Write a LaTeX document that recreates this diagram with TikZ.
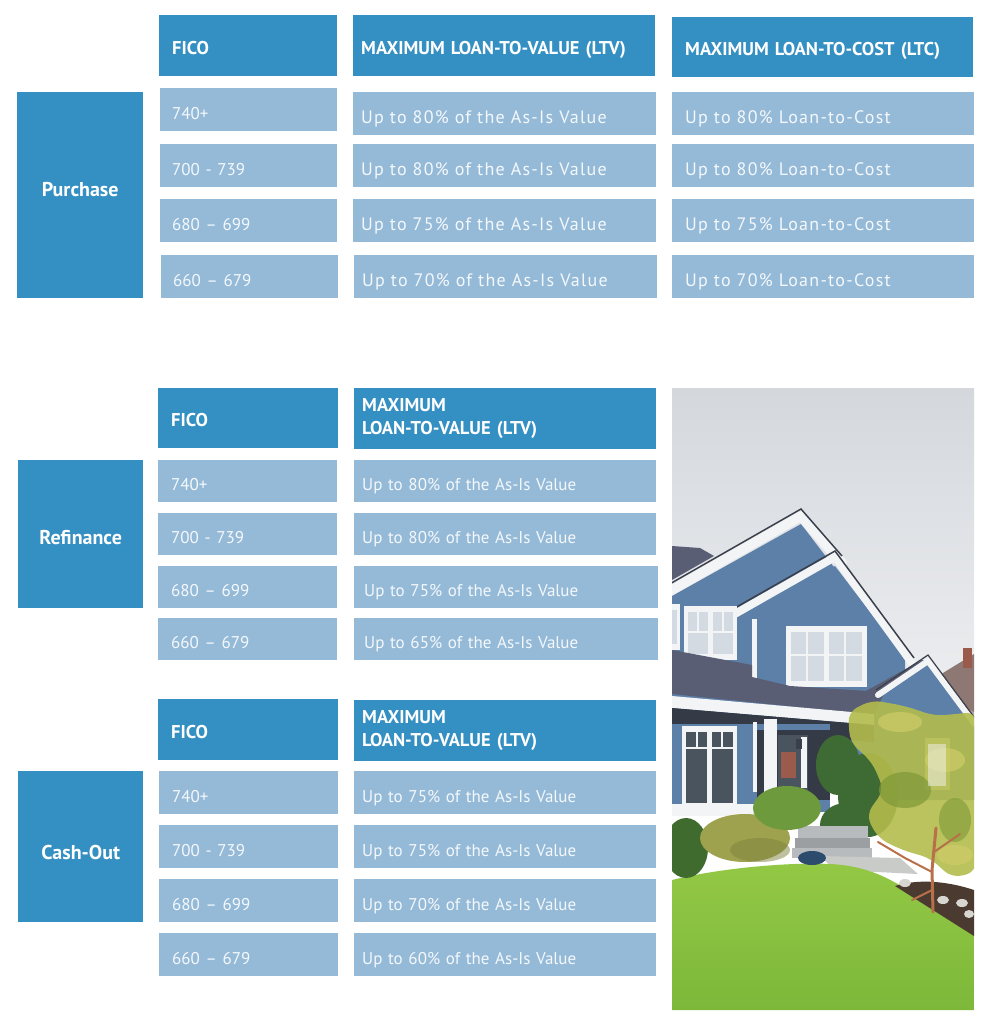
\documentclass[tikz,border=0pt]{standalone}
\usepackage{fontspec}
\setmainfont{PT Sans}
\newfontfamily\widefont[LetterSpace=7]{PT Sans}

\definecolor{hdrblue}{HTML}{348FC2}
\definecolor{cellblue}{HTML}{95BAD8}
\definecolor{celltext}{HTML}{F4F8FB}
\definecolor{skytop}{HTML}{D4D8DD}
\definecolor{skylow}{HTML}{EFF0F2}
\definecolor{siding}{HTML}{5D80A8}
\definecolor{slate}{HTML}{5A5E74}
\definecolor{roofedge}{HTML}{3A3F4C}
\definecolor{trimwhite}{HTML}{F3F4F5}
\definecolor{pane}{HTML}{D3DAE2}
\definecolor{darkpane}{HTML}{4A545E}
\definecolor{porchdark}{HTML}{343B47}
\definecolor{nbroof}{HTML}{8E7874}
\definecolor{nbwall}{HTML}{B8A4A0}
\definecolor{chimney}{HTML}{9A5A4C}
\definecolor{lawntop}{HTML}{93C845}
\definecolor{lawnlow}{HTML}{7DB83A}
\definecolor{mulch}{HTML}{4A3A30}
\definecolor{rock}{HTML}{D8D6D0}
\definecolor{bushdark}{HTML}{3F6B2E}
\definecolor{olive}{HTML}{9EA24E}
\definecolor{grassplume}{HTML}{6E9A3E}
\definecolor{shrub}{HTML}{3E6A34}
\definecolor{foliage}{HTML}{B3BC4C}
\definecolor{foliagelight}{HTML}{D2CF6A}
\definecolor{foliagedark}{HTML}{7E9838}
\definecolor{trunk}{HTML}{B8704A}
\definecolor{stepgray}{HTML}{B7BBBE}
\definecolor{pathgray}{HTML}{C9CBC8}

\newcommand{\hdrfont}{\fontsize{18.5}{23}\selectfont\bfseries}
\newcommand{\cellfont}{\fontsize{17}{20}\selectfont}
\newcommand{\widecell}{\fontsize{18}{20}\selectfont\widefont}

\tikzset{
  hdrbox/.style={fill=hdrblue, text=white, anchor=north west, inner ysep=0pt, align=left, font=\hdrfont},
  oneline/.style={text height=17pt, text depth=0pt},
  cellbox/.style={fill=cellblue, text=celltext, anchor=north west, inner ysep=0pt, align=left, font=\cellfont, text height=19pt, text depth=0pt},
  sidebox/.style={fill=hdrblue, text=white, anchor=north west, inner sep=0pt, align=center, font=\fontsize{20}{24}\selectfont\bfseries},
  trim/.style={trimwhite, line cap=round, line join=round},
}

\begin{document}
\begin{tikzpicture}[x=1pt, y=-1pt]
    \useasboundingbox (0,0) rectangle (997,1024);

    % Purchase
    \node[hdrbox, oneline, inner xsep=13pt, text width=152pt, minimum height=61pt] (pur-fico) at (159,15) {FICO};
    \node[hdrbox, oneline, inner xsep=8pt, text width=286pt, minimum height=61pt] (pur-ltv) at (353,15) {MAXIMUM LOAN-TO-VALUE (LTV)};
    \node[hdrbox, oneline, inner xsep=13pt, text width=275pt, minimum height=60pt] (pur-ltc) at (672,17) {MAXIMUM LOAN-TO-COST (LTC)};
    \node[sidebox, text height=14pt, text depth=12pt, minimum width=126pt, minimum height=206pt] (pur-side) at (17,92) {Purchase};

    \node[cellbox, inner xsep=12pt, text width=153pt, minimum height=43pt] (pur-f1) at (160,88) {740+};
    \node[cellbox, inner xsep=12pt, text width=153pt, minimum height=43pt] (pur-f2) at (160,144) {700 - 739};
    \node[cellbox, inner xsep=12pt, text width=153pt, minimum height=43pt] (pur-f3) at (160,199) {680 – 699};
    \node[cellbox, inner xsep=12pt, text width=153pt, minimum height=43pt] (pur-f4) at (161,255) {660 – 679};

    \node[cellbox, inner xsep=8pt, text width=287pt, minimum height=43pt, font=\widecell] (pur-v1) at (353,92) {Up to 80\% of the As-Is Value};
    \node[cellbox, inner xsep=8pt, text width=287pt, minimum height=43pt, font=\widecell] (pur-v2) at (353,144) {Up to 80\% of the As-Is Value};
    \node[cellbox, inner xsep=8pt, text width=287pt, minimum height=43pt, font=\widecell] (pur-v3) at (353,199) {Up to 75\% of the As-Is Value};
    \node[cellbox, inner xsep=8pt, text width=287pt, minimum height=43pt, font=\widecell] (pur-v4) at (354,255) {Up to 70\% of the As-Is Value};

    \node[cellbox, inner xsep=13pt, text width=276pt, minimum height=43pt, font=\widecell] (pur-c1) at (672,92) {Up to 80\% Loan-to-Cost};
    \node[cellbox, inner xsep=13pt, text width=276pt, minimum height=43pt, font=\widecell] (pur-c2) at (672,144) {Up to 80\% Loan-to-Cost};
    \node[cellbox, inner xsep=13pt, text width=276pt, minimum height=43pt, font=\widecell] (pur-c3) at (672,199) {Up to 75\% Loan-to-Cost};
    \node[cellbox, inner xsep=13pt, text width=276pt, minimum height=43pt, font=\widecell] (pur-c4) at (672,255) {Up to 70\% Loan-to-Cost};

    % Refinance
    \node[hdrbox, oneline, inner xsep=13pt, text width=154pt, minimum height=60pt] (ref-fico) at (158,388) {FICO};
    \node[hdrbox, inner xsep=8pt, text width=286pt, minimum height=61pt] (ref-ltv) at (354,388) {MAXIMUM\\LOAN-TO-VALUE (LTV)};
    \node[sidebox, text height=20pt, text depth=0pt, minimum width=125pt, minimum height=148pt] (ref-side) at (18,460) {Refinance};

    \node[cellbox, inner xsep=13pt, text width=153pt, minimum height=42pt] (ref-f1) at (158,460) {740+};
    \node[cellbox, inner xsep=13pt, text width=153pt, minimum height=42pt] (ref-f2) at (158,513) {700 - 739};
    \node[cellbox, inner xsep=13pt, text width=153pt, minimum height=42pt] (ref-f3) at (158,566) {680 – 699};
    \node[cellbox, inner xsep=13pt, text width=153pt, minimum height=42pt] (ref-f4) at (158,618) {660 – 679};

    \node[cellbox, inner xsep=8pt, text width=286pt, minimum height=42pt] (ref-v1) at (354,460) {Up to 80\% of the As-Is Value};
    \node[cellbox, inner xsep=8pt, text width=286pt, minimum height=42pt] (ref-v2) at (354,513) {Up to 80\% of the As-Is Value};
    \node[cellbox, inner xsep=10pt, text width=284pt, minimum height=42pt] (ref-v3) at (354,566) {Up to 75\% of the As-Is Value};
    \node[cellbox, inner xsep=10pt, text width=284pt, minimum height=42pt] (ref-v4) at (354,618) {Up to 65\% of the As-Is Value};

    % Cash-Out
    \node[hdrbox, oneline, inner xsep=13pt, text width=154pt, minimum height=61pt] (cash-fico) at (158,699) {FICO};
    \node[hdrbox, inner xsep=8pt, text width=286pt, minimum height=61pt] (cash-ltv) at (354,700) {MAXIMUM\\LOAN-TO-VALUE (LTV)};
    \node[sidebox, text height=25pt, text depth=0pt, minimum width=125pt, minimum height=151pt] (cash-side) at (18,771) {Cash-Out};

    \node[cellbox, inner xsep=13pt, text width=153pt, minimum height=43pt] (cash-f1) at (159,771) {740+};
    \node[cellbox, inner xsep=13pt, text width=153pt, minimum height=43pt] (cash-f2) at (159,825) {700 - 739};
    \node[cellbox, inner xsep=13pt, text width=153pt, minimum height=43pt] (cash-f3) at (159,879) {680 – 699};
    \node[cellbox, inner xsep=13pt, text width=153pt, minimum height=43pt] (cash-f4) at (159,933) {660 – 679};

    \node[cellbox, inner xsep=8pt, text width=286pt, minimum height=43pt] (cash-v1) at (354,771) {Up to 75\% of the As-Is Value};
    \node[cellbox, inner xsep=8pt, text width=286pt, minimum height=43pt] (cash-v2) at (354,825) {Up to 75\% of the As-Is Value};
    \node[cellbox, inner xsep=8pt, text width=286pt, minimum height=43pt] (cash-v3) at (354,879) {Up to 70\% of the As-Is Value};
    \node[cellbox, inner xsep=8pt, text width=286pt, minimum height=43pt] (cash-v4) at (354,933) {Up to 60\% of the As-Is Value};

    % house photo
    \begin{scope}
        \clip (672,388) rectangle (974,1010);
        \shade[top color=skytop, bottom color=skylow] (672,388) rectangle (974,730);
        % neighbour house
        \fill[nbwall] (945,690) rectangle (974,760);
        \fill[nbroof] (938,676) -- (974,654) -- (974,712) -- (948,700) -- cycle;
        \fill[chimney] (963,648) rectangle (972,668);
        % top left roof
        \fill[slate] (672,546) -- (700,548) -- (714,556) -- (672,580) -- cycle;
        % main gable
        \fill[siding] (672,596) -- (801,524) -- (905,660) -- (905,760) -- (672,760) -- cycle;
        \draw[trim, line width=10pt] (668,592) -- (801,516) -- (842,563);
        \draw[roofedge, line width=1.5pt] (668,585) -- (801,509) -- (842,556);
        % front gable
        \fill[siding] (742,620) -- (835,566) -- (902,654) -- (902,760) -- (742,760) -- cycle;
        \draw[trim, line width=8pt] (733,615) -- (835,557) -- (912,663);
        \draw[roofedge, line width=1.5pt] (733,609) -- (835,551) -- (914,658);
        \fill[roofedge] (731,612) rectangle (737,630);
        \fill[trimwhite] (752,619) rectangle (757,680);
        % upper windows
        \fill[trimwhite] (672,604) rectangle (680,650);
        \fill[pane] (672,610) rectangle (677,644);
        \fill[trimwhite] (684,606) rectangle (737,660);
        \fill[pane] (688,612) rectangle (708,654);
        \fill[pane] (713,612) rectangle (733,654);
        \draw[trimwhite, line width=1.5pt] (688,632) -- (733,632) (698,612) -- (698,632) (723,612) -- (723,632);
        \fill[trimwhite] (786,626) rectangle (867,687);
        \fill[pane] (791,632) rectangle (824,681);
        \fill[pane] (829,632) rectangle (862,681);
        \draw[trimwhite, line width=1.5pt] (791,655) -- (862,655) (807,632) -- (807,681) (845,632) -- (845,681);
        % lower roof
        \fill[slate] (672,650) -- (752,665) -- (752,677) -- (790,686) -- (868,691) -- (886,689) -- (874,715) -- (672,694) -- cycle;
        % right gable
        \fill[siding] (884,690) -- (928,662) -- (974,725) -- (974,800) -- (884,800) -- cycle;
        \fill[slate] (866,691) -- (922,660) -- (931,660) -- (884,693) -- cycle;
        \draw[trim, line width=6pt] (878,695) -- (928,661) -- (977,727);
        \draw[roofedge, line width=1.2pt] (876,690) -- (928,655) -- (977,721);
        % porch
        \fill[trimwhite] (672,696) -- (874,714) -- (874,725) -- (672,708) -- cycle;
        \fill[porchdark] (672,708) -- (874,725) -- (874,742) -- (672,728) -- cycle;
        \fill[siding] (672,724) rectangle (830,812);
        \fill[porchdark] (757,730) rectangle (830,800);
        \fill[darkpane] (778,735) rectangle (808,790);
        \fill[chimney] (781,752) rectangle (796,778);
        \fill[trimwhite] (801,737) rectangle (807,788);
        \fill[roofedge] (796,739) rectangle (802,749);
        \fill[trimwhite] (764,719) rectangle (777,792);
        \fill[trimwhite] (753,722) rectangle (757,792);
        \fill[trimwhite] (682,726) rectangle (737,809);
        \fill[darkpane] (686,732) rectangle (707,803);
        \fill[darkpane] (712,732) rectangle (733,803);
        \draw[trimwhite, line width=1.5pt] (686,748) -- (733,748) (697,732) -- (697,748) (722,732) -- (722,748);
        \fill[trimwhite] (672,804) rectangle (755,816);
        \fill[trimwhite] (925,738) rectangle (950,790);
        \fill[pane] (929,744) rectangle (946,786);
        % shrubs
        \fill[shrub] (838,765) ellipse (22pt and 30pt);
        \fill[shrub] (868,795) ellipse (30pt and 42pt);
        \fill[shrub] (846,825) ellipse (26pt and 22pt);
        % steps and path
        \fill[stepgray] (798,826) rectangle (868,838);
        \fill[stepgray!85!black] (795,838) rectangle (870,848);
        \fill[stepgray] (792,848) rectangle (872,858);
        \fill[pathgray] (820,856) -- (900,858) -- (918,874) -- (835,870) -- cycle;
        % lawn
        \shade[top color=lawntop, bottom color=lawnlow] (672,880) .. controls (720,868) and (790,862) .. (830,864) .. controls (870,866) and (890,880) .. (905,888) -- (974,935) -- (974,1010) -- (672,1010) -- cycle;
        \fill[mulch] (895,886) .. controls (920,878) and (950,882) .. (974,890) -- (974,936) -- cycle;
        \fill[rock] (905,883) ellipse (6pt and 4pt);
        \fill[rock] (943,900) ellipse (6pt and 4pt);
        \fill[rock] (962,903) ellipse (6pt and 4pt);
        \fill[rock] (969,914) ellipse (5pt and 4pt);
        % bushes
        \fill[bushdark] (686,848) ellipse (22pt and 30pt);
        \fill[olive] (745,838) ellipse (45pt and 24pt);
        \fill[olive!80!black, opacity=0.5] (760,850) ellipse (30pt and 12pt);
        \fill[grassplume] (787,808) ellipse (34pt and 22pt);
        \fill[bushdark!70!blue] (812,858) ellipse (14pt and 7pt);
        % tree
        \fill[foliage, opacity=0.9, rounded corners=10pt] (848,712) -- (872,700) -- (905,706) -- (935,716) -- (976,712)
            -- (976,872) -- (952,878) -- (930,858) -- (902,850) -- (878,838) -- (866,815) -- (884,790) -- (872,762) -- (850,742) -- cycle;
        \fill[foliagedark, opacity=0.7] (905,790) ellipse (26pt and 18pt);
        \fill[foliagedark, opacity=0.6] (955,820) ellipse (16pt and 22pt);
        \fill[foliagelight, opacity=0.6] (900,722) ellipse (22pt and 10pt);
        \fill[foliagelight, opacity=0.6] (945,760) ellipse (20pt and 12pt);
        \fill[foliagelight, opacity=0.6] (955,855) ellipse (18pt and 10pt);
        \fill[trimwhite, opacity=0.5] (928,744) rectangle (946,786);
        \draw[trunk, line width=3pt, line cap=round] (933,912) -- (932,870) -- (936,828);
        \draw[trunk, line width=2pt, line cap=round] (932,872) -- (905,858) -- (878,842) (934,852) -- (960,834) (932,890) -- (912,900);
    \end{scope}
\end{tikzpicture}
\end{document}
